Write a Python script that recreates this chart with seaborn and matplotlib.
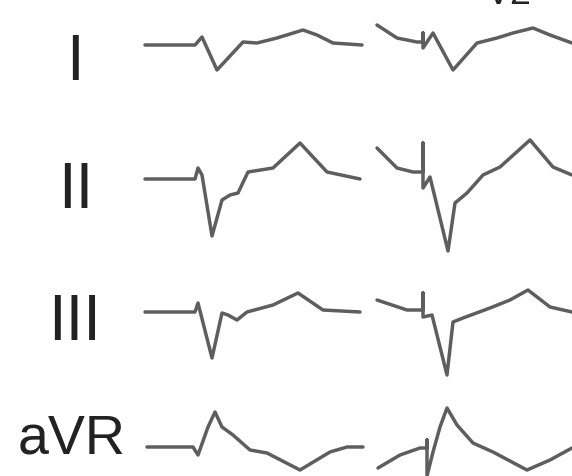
import matplotlib
matplotlib.use("Agg")
import matplotlib.pyplot as plt
import seaborn as sns
import pandas as pd

sns.set_theme(style="white")
plt.rcParams['font.family'] = ['Liberation Sans', 'DejaVu Sans']

lead_names = ["I", "II", "III", "aVR"]

I_b1_t = [145, 195, 202, 217, 243, 257, 277, 303, 317, 333, 362]
I_b1_v = [45, 45, 37, 70, 42, 43, 38, 30, 35, 43, 45]
I_b2_t = [377, 397, 417, 423, 423, 423, 433, 453, 477, 497, 513, 533, 550, 572]
I_b2_v = [25, 38, 42, 42, 33, 48, 33, 70, 43, 38, 33, 28, 35, 43]

II_b1_t = [145, 195, 198, 202, 212, 222, 230, 238, 248, 273, 300, 327, 360]
II_b1_v = [179, 179, 168, 175, 236, 200, 195, 193, 172, 168, 143, 172, 179]
II_b2_t = [377, 397, 413, 423, 423, 423, 430, 448, 455, 467, 483, 500, 530, 553, 572]
II_b2_v = [148, 168, 172, 172, 143, 188, 177, 251, 203, 193, 175, 167, 140, 167, 175]

III_b1_t = [145, 195, 198, 212, 222, 228, 237, 247, 273, 298, 323, 360]
III_b1_v = [312, 312, 303, 358, 313, 315, 320, 312, 305, 293, 310, 312]
III_b2_t = [377, 407, 423, 423, 423, 432, 447, 453, 463, 490, 510, 528, 550, 572]
III_b2_v = [300, 310, 310, 293, 317, 315, 375, 322, 318, 308, 300, 290, 307, 312]

aVR_b1_t = [147, 193, 198, 208, 215, 222, 233, 250, 267, 300, 330, 347, 363]
aVR_b1_v = [447, 447, 455, 427, 412, 427, 435, 450, 453, 470, 452, 447, 447]
aVR_b2_t = [378, 400, 420, 427, 427, 427, 433, 440, 447, 457, 473, 493, 527, 550, 572]
aVR_b2_v = [468, 455, 448, 448, 440, 476, 452, 427, 408, 425, 443, 452, 470, 460, 448]

segments = [
    ("I", 1, I_b1_t, I_b1_v), ("I", 2, I_b2_t, I_b2_v),
    ("II", 1, II_b1_t, II_b1_v), ("II", 2, II_b2_t, II_b2_v),
    ("III", 1, III_b1_t, III_b1_v), ("III", 2, III_b2_t, III_b2_v),
    ("aVR", 1, aVR_b1_t, aVR_b1_v), ("aVR", 2, aVR_b2_t, aVR_b2_v),
]

rows = []
for lead, beat, ts, vs in segments:
    for i, (t, v) in enumerate(zip(ts, vs)):
        rows.append({"lead": lead, "seg": f"{lead}-{beat}", "order": i, "t": t, "v": v})
df = pd.DataFrame(rows)

fig = plt.figure(figsize=(5.72, 4.76), dpi=100)
ax = fig.add_axes([0, 0, 1, 1])
sns.lineplot(data=df, x="t", y="v", units="seg", estimator=None, sort=False,
             color="#5e5e5e", linewidth=2.5, ax=ax, legend=False)
ax.set_xlim(0, 572)
ax.set_ylim(476, 0)
ax.axis("off")

label_pos = {"I": (75, 80, 46), "II": (76, 208, 46), "III": (75, 340, 46), "aVR": (72, 453, 40)}
for name in lead_names:
    x, y, fs = label_pos[name]
    ax.text(x, y, name, ha="center", va="baseline", fontsize=fs, color="#222222")

# partially visible header text at the top edge
ax.text(486, 4, "V2", ha="left", va="baseline", fontsize=27, color="#222222")

fig.savefig("out.png", dpi=100, facecolor="white")
